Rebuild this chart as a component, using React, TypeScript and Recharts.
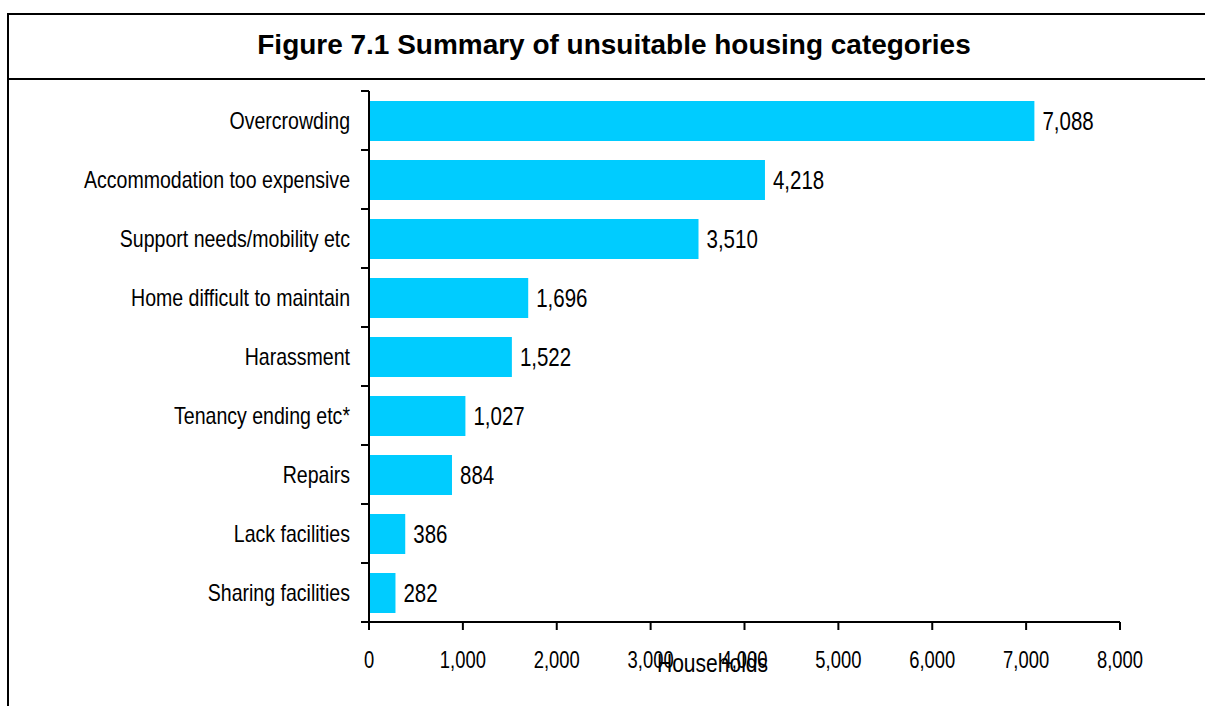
import React from 'react';
import { BarChart, Bar, XAxis, YAxis, LabelList } from 'recharts';

const categories = [
  'Overcrowding',
  'Accommodation too expensive',
  'Support needs/mobility etc',
  'Home difficult to maintain',
  'Harassment',
  'Tenancy ending etc*',
  'Repairs',
  'Lack facilities',
  'Sharing facilities',
];
const households = [7088, 4218, 3510, 1696, 1522, 1027, 884, 386, 282];
const xTicks = [0, 1000, 2000, 3000, 4000, 5000, 6000, 7000, 8000];

const title = 'Figure 7.1 Summary of unsuitable housing categories';
const axisTitle = 'Households';

const data = categories.map((name, i) => ({ name, value: households[i] }));

const FONT = '"Liberation Sans", Arial, sans-serif';
const fmt = (v: number) => v.toLocaleString('en-US');

const Narrow = ({ x, y, s, size, anchor, dy, children }: any) => (
  <text
    transform={`translate(${x},${y}) scale(${s},1)`}
    x={0}
    y={0}
    dy={dy}
    textAnchor={anchor}
    fontFamily={FONT}
    fontSize={size}
    fill="#000"
  >
    {children}
  </text>
);

const CatTick = (props: any) => {
  const { x, y, payload, index, visibleTicksCount, height } = props;
  const axisX = x + 19;
  const count = visibleTicksCount || categories.length;
  const band = height && count ? height / count : 59;
  const top = y - band / 2;
  const bottom = y + band / 2;
  return (
    <g>
      <line x1={axisX - 8} x2={axisX} y1={top} y2={top} stroke="#000" strokeWidth={2} />
      {index === count - 1 ? (
        <line x1={axisX - 8} x2={axisX} y1={bottom} y2={bottom} stroke="#000" strokeWidth={2} />
      ) : null}
      <Narrow x={x} y={y} s={0.85} size={23} anchor="end" dy="0.355em">
        {payload.value}
      </Narrow>
    </g>
  );
};

const XTick = (props: any) => {
  const { x, y, payload } = props;
  return (
    <Narrow x={x} y={y} s={0.8} size={23} anchor="middle" dy="0.71em">
      {fmt(payload.value)}
    </Narrow>
  );
};

const ValueLabel = (props: any) => {
  const { x, y, width, height, value } = props;
  return (
    <Narrow x={x + width + 8} y={y + height / 2} s={0.82} size={25} anchor="start" dy="0.355em">
      {fmt(Number(value))}
    </Narrow>
  );
};

const AxisTitle = (props: any) => {
  const vb = props.viewBox || {};
  return (
    <Narrow x={vb.x + vb.width / 2 - 32} y={672} s={0.81} size={26} anchor="middle" dy={0}>
      {axisTitle}
    </Narrow>
  );
};

export default function App() {
  return (
    <div style={{ position: 'fixed', left: 0, top: 0, width: 1205, height: 706, overflow: 'hidden', background: '#fff' }}>
      <div style={{ position: 'absolute', left: 7, top: 13, width: 1198, height: 2, background: '#000' }} />
      <div style={{ position: 'absolute', left: 7, top: 78, width: 1198, height: 2, background: '#000' }} />
      <div style={{ position: 'absolute', left: 7, top: 13, width: 2, height: 693, background: '#000' }} />
      <div
        style={{
          position: 'absolute',
          left: 114,
          top: 30,
          width: 1000,
          textAlign: 'center',
          fontFamily: FONT,
          fontWeight: 'bold',
          fontSize: 27,
          lineHeight: '30px',
          color: '#000',
          whiteSpace: 'nowrap',
          transform: 'scaleX(1.036)',
          transformOrigin: '500px 0',
        }}
      >
        {title}
      </div>
      <div style={{ position: 'absolute', left: 0, top: 0 }}>
        <BarChart
          width={1205}
          height={706}
          data={data}
          layout="vertical"
          margin={{ top: 91, right: 85, left: 169, bottom: 34 }}
          barSize={40}
        >
          <XAxis
            type="number"
            domain={[0, 8000]}
            ticks={xTicks}
            height={50}
            tickSize={8}
            tickMargin={22}
            axisLine={{ stroke: '#000', strokeWidth: 2 }}
            tickLine={{ stroke: '#000', strokeWidth: 2 }}
            tick={<XTick />}
            interval={0}
            label={<AxisTitle />}
          />
          <YAxis
            type="category"
            dataKey="name"
            width={200}
            axisLine={{ stroke: '#000', strokeWidth: 2 }}
            tickLine={false}
            tickSize={0}
            tickMargin={19}
            interval={0}
            tick={<CatTick />}
          />
          <Bar dataKey="value" fill="#00CCFF" isAnimationActive={false}>
            <LabelList dataKey="value" content={<ValueLabel />} />
          </Bar>
        </BarChart>
      </div>
    </div>
  );
}
